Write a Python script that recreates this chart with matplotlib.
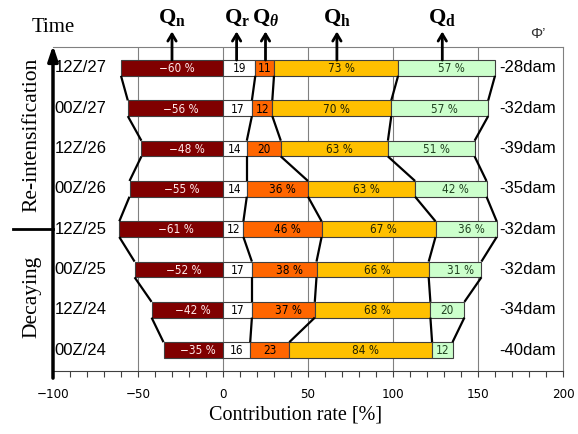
import numpy as np
import matplotlib
matplotlib.use('Agg')
import matplotlib.pyplot as plt
from matplotlib import font_manager

# data, bottom row first
times = ['00Z/24', '12Z/24', '00Z/25', '12Z/25', '00Z/26', '12Z/26', '00Z/27', '12Z/27']
qn = [-35, -42, -52, -61, -55, -48, -56, -60]
qr = [16, 17, 17, 12, 14, 14, 17, 19]
qtheta = [23, 37, 38, 46, 36, 20, 12, 11]
qh = [84, 68, 66, 67, 63, 63, 70, 73]
qd = [12, 20, 31, 36, 42, 51, 57, 57]
phi = ['-40dam', '-34dam', '-32dam', '-32dam', '-35dam', '-39dam', '-32dam', '-28dam']

names = ['n', 'r', r'\theta', 'h', 'd']
name_x = [-30, 8, 25, 67, 129]

colors = ['#800000', '#ffffff', '#ff6600', '#ffc000', '#ccffcc']
text_colors = ['#ffe8e8', 'black', 'black', '#222200', '#224422']

available = {f.name for f in font_manager.fontManager.ttflist}
narrow = 'Liberation Sans Narrow' if 'Liberation Sans Narrow' in available else 'DejaVu Sans'
narrow_kw = dict(family=narrow)
if narrow == 'DejaVu Sans':
    narrow_kw['stretch'] = 'condensed'

plt.rcParams['mathtext.fontset'] = 'custom'
plt.rcParams['mathtext.rm'] = 'Liberation Serif'
plt.rcParams['mathtext.bf'] = 'Liberation Serif:bold'
plt.rcParams['mathtext.it'] = 'Liberation Serif:italic:bold'

fig = plt.figure(figsize=(5.78, 4.34), dpi=100)
ax = fig.add_axes([53 / 578, 63 / 434, 510 / 578, 324 / 434])

y = np.arange(len(times))
h = 0.39

qn = np.array(qn)
qr = np.array(qr)
qtheta = np.array(qtheta)
qh = np.array(qh)
qd = np.array(qd)

lefts = [qn, qn * 0, qr, qr + qtheta, qr + qtheta + qh]
widths = [-qn, qr, qtheta, qh, qd]
values = [qn, qr, qtheta, qh, qd]

for k in range(5):
    ax.barh(y, widths[k], left=lefts[k], height=h, color=colors[k],
            edgecolor='#404040', linewidth=0.8, zorder=3)
    for i in range(len(times)):
        v = values[k][i]
        s = f'{v} %' if abs(v) >= 30 else f'{v}'
        s = s.replace('-', '\u2212')
        cx = lefts[k][i] + widths[k][i] / 2
        if abs(v) >= 30:
            cx += 3
        ax.text(cx, y[i] - 0.02, s, ha='center', va='center', fontsize=8.5,
                color=text_colors[k], zorder=4, **narrow_kw)

# connecting lines between boundaries
bounds = [qn, qr, qr + qtheta, qr + qtheta + qh, qr + qtheta + qh + qd]
for b in bounds:
    for i in range(len(times) - 1):
        ax.plot([b[i], b[i + 1]], [y[i] + h / 2, y[i + 1] - h / 2],
                color='black', lw=1.6, zorder=5, solid_capstyle='butt')

# time labels and phi labels
for i in range(len(times)):
    ax.text(-99, y[i], times[i], ha='left', va='center', fontsize=12,
            family='Liberation Sans', zorder=6)
    ax.text(162.5, y[i], phi[i], ha='left', va='center', fontsize=12,
            family='Liberation Sans', zorder=6)

for gx in [-50, 0, 50, 100, 150]:
    ax.axvline(gx, color='#808080', lw=0.8, zorder=1)

ax.set_xlim(-100, 200)
ax.set_ylim(-0.52, 7.52)
ax.set_yticks([])
ax.set_xticks(np.arange(-100, 201, 50))
ax.set_xticks(np.arange(-100, 201, 10), minor=True)
ax.set_xticklabels([str(v).replace('-', '\u2212') for v in range(-100, 201, 50)],
                   fontsize=9.5, **narrow_kw)
ax.tick_params(axis='x', which='both', direction='out', length=4, width=0.8,
               color='#404040', pad=8)
ax.set_xlabel('Contribution rate [%]', fontsize=14.5, family='Liberation Serif')
ax.xaxis.set_label_coords((296 - 53) / 510, -0.108)

ax.spines['left'].set_visible(False)
for sp in ['top', 'right']:
    ax.spines[sp].set_color('#808080')
    ax.spines[sp].set_linewidth(0.8)
ax.spines['bottom'].set_color('#404040')

# time arrow on left
ax.annotate('', xy=(0, 1.005), xycoords='axes fraction', xytext=(0, -0.022),
            textcoords='axes fraction',
            arrowprops=dict(arrowstyle='-|>,head_length=0.9,head_width=0.3',
                            color='black', lw=2.5, shrinkA=0, shrinkB=0),
            annotation_clip=False)
ax.text(0, 1.06, 'Time', transform=ax.transAxes, ha='center', va='center',
        fontsize=15, family='Liberation Serif')
ax.plot([-0.078, 0], [0.438, 0.438], transform=ax.transAxes, color='black',
        lw=2, clip_on=False)
ax.text(-0.041, 0.728, 'Re-intensification', transform=ax.transAxes,
        rotation=90, ha='center', va='center', fontsize=15.5,
        family='Liberation Serif')
ax.text(-0.041, 0.228, 'Decaying', transform=ax.transAxes, rotation=90,
        ha='center', va='center', fontsize=15.5, family='Liberation Serif')

# Q labels with arrows
top_bar = y[-1] + h / 2
for nm, nx in zip(names, name_x):
    ax.annotate('', xy=(nx, 1.048), xycoords=('data', 'axes fraction'),
                xytext=(nx, top_bar), textcoords='data',
                arrowprops=dict(arrowstyle='->,head_length=0.5,head_width=0.3',
                                color='black', lw=2, shrinkA=0, shrinkB=0),
                annotation_clip=False, zorder=6)
    sub = nm if nm.startswith('\\') else r'\mathbf{' + nm + '}'
    ax.text(nx, 1.06, r'$\mathbf{Q}_{' + sub + '}$',
            transform=ax.get_xaxis_transform(), ha='center', va='bottom',
            fontsize=16)
ax.text(185, 1.04, "\u03a6\u2019", transform=ax.get_xaxis_transform(),
        ha='center', va='center', fontsize=11, color='#333333',
        family='Liberation Sans')

fig.savefig('out.png', dpi=100)
